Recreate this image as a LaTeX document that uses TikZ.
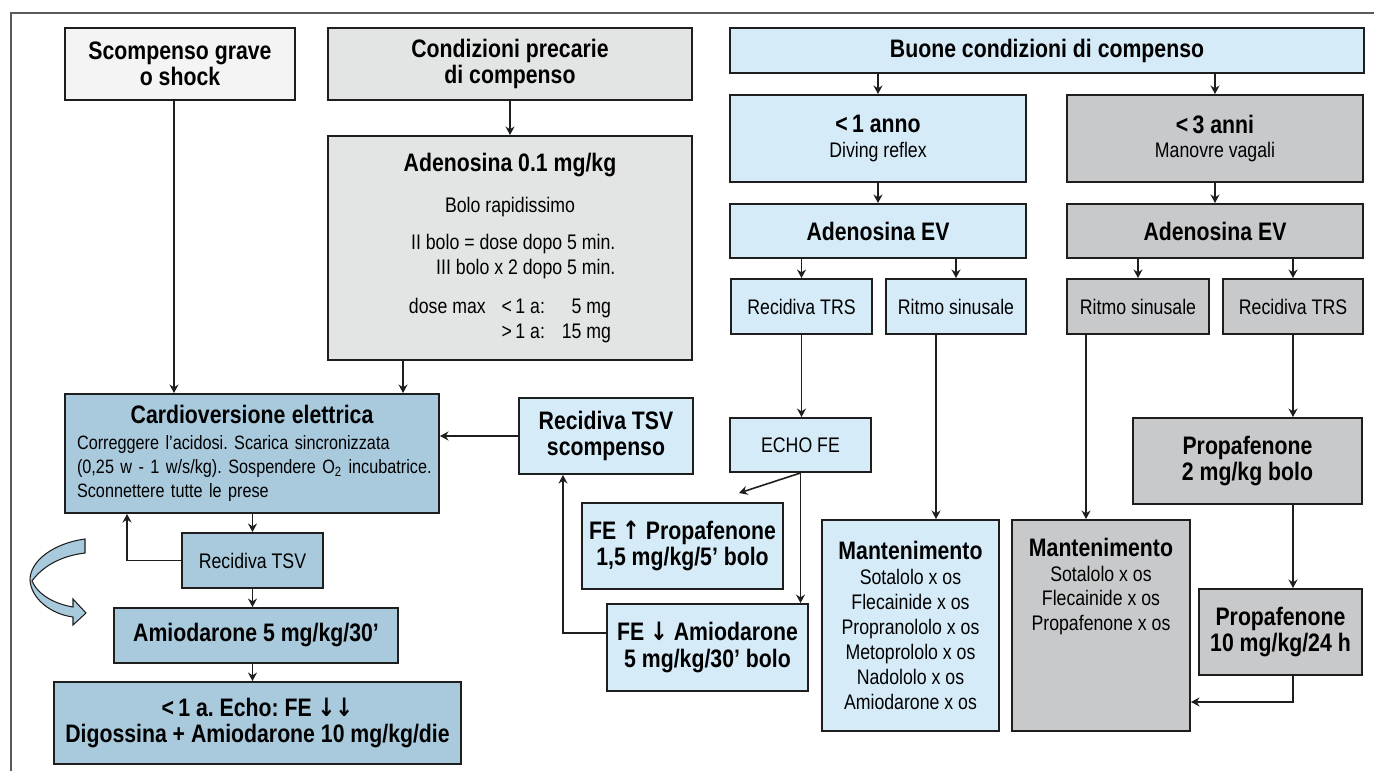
\documentclass[tikz,border=0pt]{standalone}
\usepackage{fontspec}
\setmainfont{Liberation Sans}[FakeStretch=0.84]
\newfontfamily\arrowfont{DejaVu Sans}[FakeStretch=0.84]
\usepackage{xcolor}
\usepackage{tikz}
\usetikzlibrary{arrows.meta,calc}
\frenchspacing
\definecolor{shockGray}{HTML}{F4F4F4}
\definecolor{precGray}{HTML}{E3E4E4}
\definecolor{goodBlue}{HTML}{D6EBF8}
\definecolor{olderGray}{HTML}{C8C9CB}
\definecolor{cardioBlue}{HTML}{A9CADD}
\definecolor{lineDark}{HTML}{1E1E1E}
\definecolor{frameGray}{HTML}{5A5A5A}
\newcommand\bigbold{\fontsize{14.4}{14.5}\selectfont\bfseries}
\newcommand\upar{{\arrowfont\bfseries ↑}}
\newcommand\downar{{\arrowfont\bfseries ↓}}
\tikzset{
  conn/.style={-{Stealth[length=1.7mm,width=1.8mm]}, line width=0.9pt,
    draw=lineDark},
  base box/.style={draw=lineDark, line width=1.1pt, align=center,
    inner sep=0pt},
  pale box/.style={base box, fill=shockGray},
  grey box/.style={base box, fill=precGray},
  sky box/.style={base box, fill=goodBlue},
  steel box/.style={base box, fill=cardioBlue},
  dark box/.style={base box, fill=olderGray},
  wh/.style 2 args={minimum width=#1*0.02cm, minimum height=#2*0.02cm},
  head/.style={font=\fontsize{14.4}{15}\selectfont\bfseries},
  plain/.style={font=\fontsize{12}{14.2}\selectfont},
  frame line/.style={draw=frameGray, line width=1.1pt},
  swirl/.style={draw=lineDark, line width=0.6pt, fill=cardioBlue}
}

\begin{document}
\begin{tikzpicture}[x=0.02cm, y=-0.02cm]
  \useasboundingbox (0,0) rectangle (1374,771);
  \draw[frame line] (11,771) -- (11,13) -- (1374,13);

  \node[pale box, wh={230}{72}, head] (shock) at (180,64) {Scompenso grave\\o shock};
  \node[grey box, wh={364}{72}, head] (precarie) at (510,64) {Condizioni precarie\\di compenso};
  \node[sky box, wh={634}{45}, head] (buone) at (1047,50.5) {Buone condizioni di compenso};
  \node[sky box, wh={296}{87}, plain] (anno) at (878,138.5) {{\bigbold <\,1 anno}\\Diving reflex};
  \node[dark box, wh={296}{87}, plain] (anni) at (1215,138.5) {{\bigbold <\,3 anni}\\Manovre vagali};
  \node[grey box, wh={364}{224}, plain] (adeno) at (510,248)
    {{\bigbold Adenosina 0.1 mg/kg}\\[9pt]
     Bolo rapidissimo\\[7pt]
     \makebox[120pt][r]{II bolo = dose dopo 5 min.}\\
     \makebox[120pt][r]{III bolo x 2 dopo 5 min.}\\[8pt]
     \makebox[115pt][l]{dose max\hspace{9pt}<\,1 a:\hfill 5 mg}\\
     \makebox[115pt][l]{\phantom{dose max\hspace{9pt}}>\,1 a:\hfill 15 mg}};
  \node[sky box, wh={296}{54}, head] (evA) at (878,231) {Adenosina EV};
  \node[dark box, wh={296}{54}, head] (evB) at (1215,231) {Adenosina EV};
  \node[sky box, wh={141}{55}, plain] (trsA) at (801.5,306.5) {Recidiva TRS};
  \node[sky box, wh={140}{55}, plain] (sinA) at (956,306.5) {Ritmo sinusale};
  \node[dark box, wh={142}{55}, plain] (sinB) at (1138,306.5) {Ritmo sinusale};
  \node[dark box, wh={140}{55}, plain] (trsB) at (1293,306.5) {Recidiva TRS};
  \node[steel box, wh={374}{119}, plain, align=left, text width=7.0cm,
    font=\fontsize{11}{13.6}\selectfont] (cardio) at (252,453.5)
    {\makebox[7.0cm]{\bigbold Cardioversione elettrica}\\[1pt]
     \mbox{Correggere l'acidosi. Scarica sincronizzata}\\
     \mbox{(0,25 w - 1 w/s/kg). Sospendere O\textsubscript{2} incubatrice.}\\
     \mbox{Sconnettere tutte le prese}};
  \node[sky box, wh={174}{76}, head] (tsvScomp) at (606,436) {Recidiva TSV\\scompenso};
  \node[sky box, wh={141}{54}, plain] (echo) at (800.5,445) {ECHO FE};
  \node[dark box, wh={229}{86}, head] (propBolo) at (1247.5,461) {Propafenone\\2 mg/kg bolo};
  \node[sky box, wh={201}{86}, head] (feUp) at (682.5,546) {FE \upar\ Propafenone\\1,5 mg/kg/5' bolo};
  \node[sky box, wh={177}{211}, plain] (mantA) at (910.5,625.5)
    {{\bigbold Mantenimento}\\Sotalolo x os\\Flecainide x os\\Propranololo x os\\
     Metoprololo x os\\Nadololo x os\\Amiodarone x os};
  \node[dark box, wh={178}{211}, plain] (mantB) at (1101,625.5)
    {{\bigbold Mantenimento}\\Sotalolo x os\\Flecainide x os\\Propafenone x os\\
     \strut\\\strut\\\strut};
  \node[steel box, wh={141}{55}, plain] (tsv) at (252.5,560.5) {Recidiva TSV};
  \node[sky box, wh={201}{87}, head] (feDown) at (707.5,647.5) {FE \downar\ Amiodarone\\5 mg/kg/30' bolo};
  \node[dark box, wh={163}{86}, head] (propDie) at (1280.5,632) {Propafenone\\10 mg/kg/24 h};
  \node[steel box, wh={284}{55}, head] (amio) at (256,635.5) {Amiodarone 5 mg/kg/30'};
  \node[steel box, wh={407}{82}, head] (digo) at (257.5,723)
    {<\,1 a. Echo: FE \downar\downar\\Digossina + Amiodarone 10 mg/kg/die};

  \draw[swirl] (85,539) .. controls (55,543) and (30,560) .. (30,580)
    .. controls (31,598) and (50,614) .. (73,617) -- (73,625) -- (86,613)
    -- (73,599) -- (73,607) .. controls (55,604) and (38,595) .. (32,581)
    .. controls (42,567) and (60,556) .. (85,553) -- cycle;

  \draw[conn] ([xshift=-0.12cm]shock.south) -- ([xshift=-0.12cm]shock.south |- cardio.north);
  \draw[conn] (precarie) -- (adeno);
  \draw[conn] ([xshift=1.52cm]adeno.south west) -- ([xshift=1.52cm]adeno.south west |- cardio.north);
  \draw[conn] (buone.south -| anno) -- (anno);
  \draw[conn] (buone.south -| anni) -- (anni);
  \draw[conn] (anno) -- (evA);
  \draw[conn] (anni) -- (evB);
  \draw[conn] (evA.south -| trsA) -- (trsA);
  \draw[conn] (evA.south -| sinA) -- (sinA);
  \draw[conn] (evB.south -| sinB) -- (sinB);
  \draw[conn] (evB.south -| trsB) -- (trsB);
  \draw[conn] (trsA.south) -- (trsA.south |- echo.north);
  \draw[conn] ([xshift=-0.4cm]sinA.south) -- ([xshift=-0.4cm]sinA.south |- mantA.north);
  \draw[conn] ([xshift=-1.04cm]sinB.south) -- ([xshift=-1.04cm]sinB.south |- mantB.north);
  \draw[conn] (trsB) -- (trsB |- propBolo.north);
  \draw[conn] (propBolo.south -| trsB) -- (propDie.north -| trsB);
  \draw[conn] (propDie.south -| trsB) |- ([yshift=-1.53cm]mantB.east);
  \draw[conn] (echo.south) -- ([xshift=1.13cm,yshift=0.18cm]feUp.north);
  \draw[conn] (echo.south) -- (echo.south |- feDown.north);
  \draw[conn] ([yshift=0.29cm]feDown.west) -| ([xshift=-0.86cm]tsvScomp.south);
  \draw[conn] (tsvScomp) -- (tsvScomp -| cardio.east);
  \draw[conn] (cardio.south -| tsv) -- (tsv);
  \draw[conn] (tsv.south) -- (tsv.south |- amio.north);
  \draw[conn] (amio.south -| tsv) -- (digo.north -| tsv);
  \draw[conn] (tsv.west) -| ([xshift=1.26cm]cardio.south west);
\end{tikzpicture}
\end{document}
